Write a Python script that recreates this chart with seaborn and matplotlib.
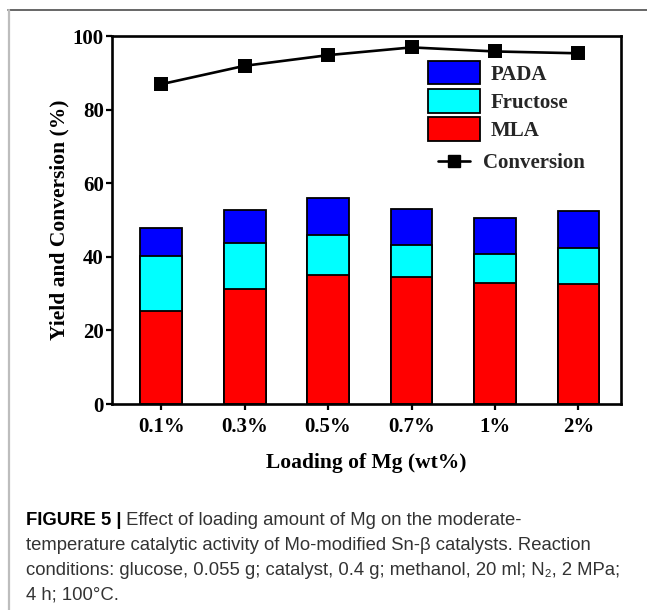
import matplotlib
matplotlib.use("Agg")
import matplotlib.pyplot as plt
import seaborn as sns
import numpy as np
from matplotlib.patches import Patch
from matplotlib.lines import Line2D

# ---------------- data ----------------
loadings = ["0.1%", "0.3%", "0.5%", "0.7%", "1%", "2%"]
mla = [25.3, 31.2, 35.0, 34.6, 32.9, 32.5]
fructose = [14.9, 12.5, 10.8, 8.7, 7.9, 9.9]
pada = [7.7, 8.9, 10.2, 9.8, 9.7, 10.1]
conversion = [86.9, 91.9, 94.8, 96.9, 95.8, 95.3]
y_ticks = [0, 20, 40, 60, 80, 100]

series_names = ["PADA", "Fructose", "MLA"]
series_colors = ["#0000FF", "#00FFFF", "#FF0000"]

caption_bold = "FIGURE 5 |"
caption_lines = [
    " Effect of loading amount of Mg on the moderate-",
    "temperature catalytic activity of Mo-modified Sn-\u03b2 catalysts. Reaction",
    "conditions: glucose, 0.055 g; catalyst, 0.4 g; methanol, 20 ml; N\u2082, 2 MPa;",
    "4 h; 100\u00b0C.",
]

# ---------------- style ----------------
sns.set_theme(style="white")
plt.rcParams["font.family"] = ["Liberation Serif", "DejaVu Serif"]
plt.rcParams["font.weight"] = "bold"

W, H = 647, 610
fig = plt.figure(figsize=(W / 100, H / 100), dpi=100)
ax = fig.add_axes([112 / W, 1 - 404 / H, (621 - 112) / W, (404 - 36) / H])

mla_a = np.array(mla)
fru_top = mla_a + np.array(fructose)
tot_top = fru_top + np.array(pada)

# stacked bars: draw tallest first, overlay lower stacks
for vals, col in zip([tot_top, fru_top, mla_a], series_colors):
    sns.barplot(x=loadings, y=vals, order=loadings, color=col, saturation=1,
                edgecolor="black", linewidth=1.3, width=0.5, ax=ax, zorder=2)

sns.pointplot(x=loadings, y=conversion, order=loadings, color="black",
              markers="s", linestyles="-", markersize=8, linewidth=1.9,
              errorbar=None, ax=ax, zorder=3)

ax.set_xlim(-0.59, 5.51)
ax.set_ylim(0, 100)
ax.set_yticks(y_ticks)
ax.set_yticklabels([str(t) for t in y_ticks])

for s in ax.spines.values():
    s.set_visible(True)
    s.set_linewidth(1.9)
    s.set_color("black")

ax.tick_params(axis="both", which="major", direction="out", length=4.5, width=1.6,
               labelsize=15, colors="black", bottom=True, left=True,
               top=False, right=False)
ax.tick_params(axis="y", pad=1.5)
ax.tick_params(axis="x", pad=4.5)
for lbl in ax.get_xticklabels() + ax.get_yticklabels():
    lbl.set_fontweight("bold")

ax.set_xlabel("Loading of Mg (wt%)", fontsize=15.5, fontweight="bold", color="black")
ax.set_ylabel("Yield and Conversion (%)", fontsize=15.5, fontweight="bold", color="black")
ax.xaxis.set_label_coords(0.5, -(463 - 404) / 368, transform=ax.transAxes)
ax.yaxis.set_label_coords(-(112 - 59) / 509, 0.5, transform=ax.transAxes)
ax.xaxis.label.set_va("center")
ax.yaxis.label.set_va("center")

# legends
patch_handles = [Patch(facecolor=c, edgecolor="black", linewidth=1.3) for c in series_colors]
leg1 = ax.legend(patch_handles, series_names, loc="upper left",
                 bbox_to_anchor=((428 - 112) / 509, (404 - 61) / 368),
                 frameon=False, borderpad=0, borderaxespad=0,
                 handlelength=2.5, handleheight=1.35, handletextpad=0.5,
                 labelspacing=0.22, prop={"family": "Liberation Serif", "weight": "bold", "size": 15})
ax.add_artist(leg1)
line_handle = Line2D([], [], color="black", marker="s", markersize=8, linewidth=1.9)
leg2 = ax.legend([line_handle], ["Conversion"], loc="center left",
                 bbox_to_anchor=((438 - 112) / 509, (404 - 163) / 368),
                 frameon=False, borderpad=0, borderaxespad=0,
                 handlelength=1.55, handletextpad=0.6,
                 prop={"family": "Liberation Serif", "weight": "bold", "size": 15})

# frame lines around the figure panel
fig.add_artist(Line2D([8 / W, 1], [1 - 10 / H, 1 - 10 / H], transform=fig.transFigure,
                      color="#5a5a5a", linewidth=1.3))
fig.add_artist(Line2D([9 / W, 9 / W], [0, 1 - 10 / H], transform=fig.transFigure,
                      color="#bdbdbd", linewidth=1.6))

# caption
cap_family = ["Liberation Sans", "DejaVu Sans"]
cap_size = 13.3
x0 = 26 / W
baselines = [525, 550, 575, 600]
renderer = fig.canvas.get_renderer()
tb = fig.text(x0, 1 - baselines[0] / H, caption_bold, fontsize=cap_size, family=cap_family,
              fontweight="bold", color="black", va="baseline", ha="left")
bb = tb.get_window_extent(renderer=renderer)
x1 = bb.x1 / fig.bbox.width
fig.text(x1, 1 - baselines[0] / H, caption_lines[0], fontsize=cap_size, family=cap_family,
         fontweight="normal", color="#333333", va="baseline", ha="left")
for line, yb in zip(caption_lines[1:], baselines[1:]):
    fig.text(x0, 1 - yb / H, line, fontsize=cap_size, family=cap_family,
             fontweight="normal", color="#333333", va="baseline", ha="left")

fig.savefig("out.png", dpi=100)
